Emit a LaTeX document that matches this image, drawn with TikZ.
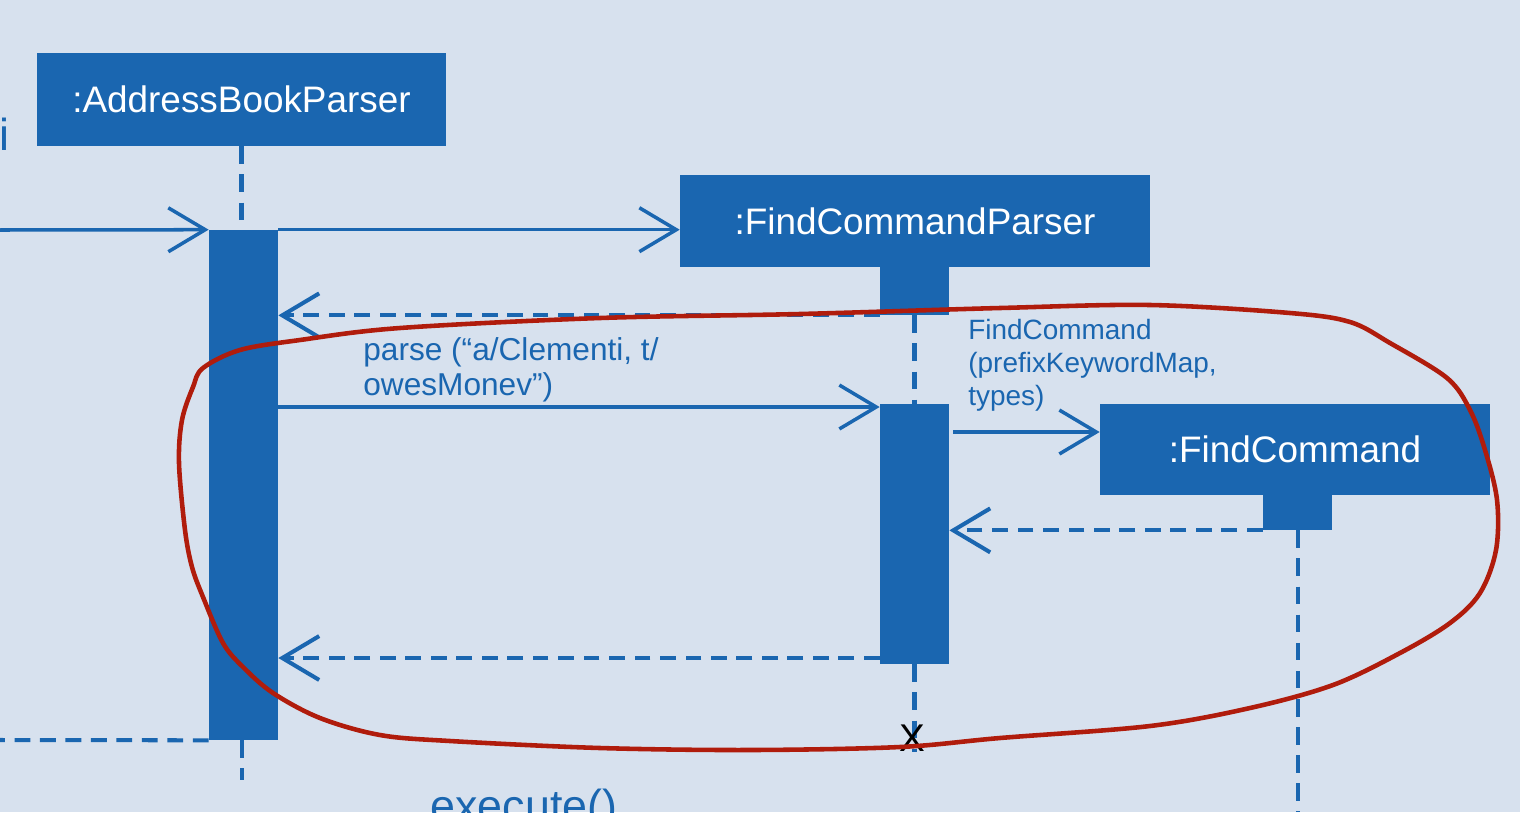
\documentclass[tikz,border=0pt]{standalone}
\usepackage{fontspec}
\setmainfont{Liberation Sans}
\usetikzlibrary{arrows.meta,calc}
\definecolor{bgc}{HTML}{D7E1EE}
\definecolor{umlblue}{HTML}{1A66B0}
\definecolor{penred}{HTML}{B01C0C}
\begin{document}
\begin{tikzpicture}[x=0.02cm,y=-0.02cm,
  objbox/.style={fill=umlblue, draw=none, text=white, font=\fontsize{21}{25}\selectfont, inner sep=0},
  actbar/.style={fill=umlblue, draw=none, minimum width=1.38cm, inner sep=0},
  msg/.style={draw=umlblue, line width=2pt, -{Straight Barb[length=21pt,width=25pt]}},
  ret/.style={msg, line width=2.3pt, dash pattern=on 9pt off 5.5pt},
  retline/.style={draw=umlblue, line width=2.3pt, dash pattern=on 9pt off 5.5pt},
  life/.style={draw=umlblue, line width=2.3pt, dash pattern=on 10pt off 6pt},
  lbl/.style={text=umlblue, inner sep=0, anchor=north west, align=left}]
\path[use as bounding box, fill=bgc] (0,0) rectangle (1520,812);
\clip (0,0) rectangle (1520,812);

% objects
\node[objbox, minimum width=8.18cm, minimum height=1.86cm] (abp) at (241.5,99.5) {:AddressBookParser};
\node[objbox, minimum width=9.4cm, minimum height=1.84cm] (fcp) at (915,221) {:FindCommandParser};
\node[actbar, minimum height=0.96cm] (fcphead) at (914.5,291) {};
\node[objbox, minimum width=7.8cm, minimum height=1.82cm] (fc) at (1295,449.5) {:FindCommand};
\node[actbar, minimum height=0.7cm] (fchead) at (1297.5,512.5) {};
\node[actbar, minimum height=10.2cm] (abpact) at (243.5,485) {};
\node[actbar, minimum height=5.2cm] (fcpact) at (914.5,534) {};

% lifelines
\coordinate (abpend) at (242,780);
\coordinate (fcpend) at (914.5,752);
\coordinate (fcend) at (1297.5,812);
\draw[life] (abp.south) -- (abp.south |- abpact.north);
\draw[life] (abpact.south -| abpend) -- (abpend);
\draw[life] (fcphead.south) -- (fcpact.north);
\draw[life] (fcpact.south) -- (fcpend);
\draw[life] (fchead.south) -- (fcend);

% messages
\coordinate (inL) at (0,230);
\coordinate (yparse) at (0,407);
\coordinate (ycreate) at (0,432);
\coordinate (yret) at (0,658);
\coordinate (outL) at (0,740);
\draw[msg] (inL) -- (abpact.north west);
\draw[msg] (abpact.north east) -- (abpact.north east -| fcp.west);
\draw[ret] (fcphead.south west) -- (fcphead.south west -| abpact.east);
\draw[msg] (abpact.east |- yparse) -- (fcpact.west |- yparse);
\draw[msg] ($(fcpact.east |- ycreate)+(4,0)$) -- (fc.west |- ycreate);
\draw[ret] (fchead.south west) -- (fchead.south west -| fcpact.east);
\draw[ret] (fcpact.west |- yret) -- (abpact.east |- yret);
\draw[retline] (abpact.south west) -- (outL);

% labels
\node[lbl, font=\fontsize{18}{19.8}\selectfont] (parselbl) at (363,337) {parse (“a/Clementi, t/\\owesMonev”)};
\node[lbl, font=\fontsize{15.9}{18.7}\selectfont] (fclbl) at (968,319) {FindCommand\\(prefixKeywordMap,\\types)};
\node[text=black, font=\fontsize{22}{26}\selectfont, inner sep=0] (xmark) at (912,738) {X};
\node[text=umlblue, font=\fontsize{25.5}{30}\selectfont, inner sep=0, anchor=base] (exec) at (524,821) {execute()};
\node[text=umlblue, font=\fontsize{25.5}{30}\selectfont, inner sep=0, anchor=base east] (icut) at (10,150) {i};

% hand-drawn annotation
\draw[penred, line width=2.6pt, line join=round] plot[smooth cycle, tension=0.55] coordinates {
 (203,368) (240,350) (300,340) (400,328) (600,318) (800,314) (1000,308) (1150,305)
 (1290,313) (1350,322) (1390,343) (1447,378) (1470,410) (1485,450) (1497,500)
 (1496,550) (1480,593) (1450,623) (1400,653) (1333,685) (1250,708) (1150,726)
 (1000,738) (900,747) (750,750) (600,748) (450,741) (380,735) (320,718) (273,693)
 (243,667) (223,643) (203,597) (192,567) (185,530) (179,463) (182,420) (193,387)};
\end{tikzpicture}
\end{document}
